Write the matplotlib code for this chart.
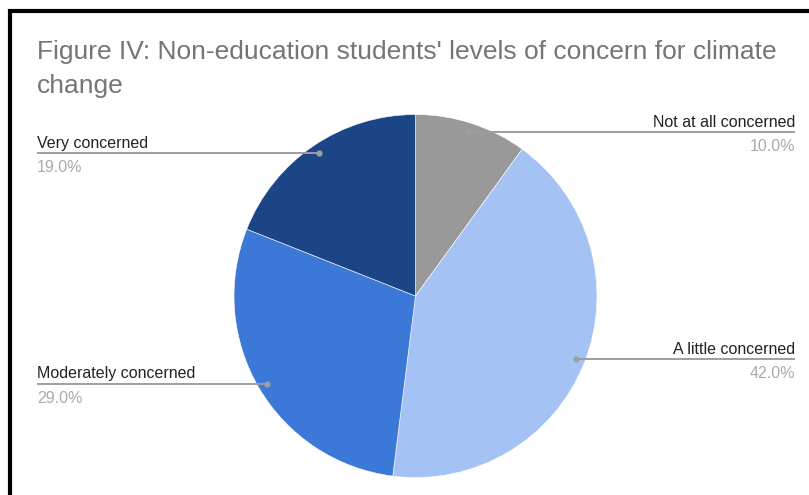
import numpy as np
import matplotlib
matplotlib.use("Agg")
import matplotlib.pyplot as plt

title_lines = ["Figure IV: Non-education students' levels of concern for climate", "change"]
categories = ["Not at all concerned", "A little concerned", "Moderately concerned", "Very concerned"]
shares = [10.0, 42.0, 29.0, 19.0]
colors = ["#999999", "#a4c2f4", "#3c78d8", "#1c4587"]

W, H = 809, 495
fig = plt.figure(figsize=(W / 100, H / 100), dpi=100)
ax = fig.add_axes([0, 0, 1, 1])

# frame around the chart (left and top edges visible)
ax.plot([10.5, 10.5, W + 5], [-5, H - 10.5, H - 10.5], color="black", lw=3,
        solid_capstyle="butt", solid_joinstyle="miter")

cx, cy, r = 415.5, H - 296, 181.5
wedges, _ = ax.pie(shares, colors=colors, startangle=90, counterclock=False,
                   center=(cx, cy), radius=r, frame=True,
                   wedgeprops=dict(edgecolor="white", linewidth=0.4))
ax.set_xlim(0, W)
ax.set_ylim(0, H)
ax.set_aspect("equal")
ax.axis("off")

title_font = ["Liberation Sans", "DejaVu Sans"]
for line, base in zip(title_lines, [59, 93]):
    ax.text(37, H - base, line, fontsize=19, color="#757575",
            family=title_font, va="baseline", ha="left")

label_font = ["Liberation Sans", "DejaVu Sans"]
for w, name, val in zip(wedges, categories, shares):
    ang = np.deg2rad((w.theta1 + w.theta2) / 2)
    dx, dy = 0.95 * r * np.cos(ang), 0.95 * r * np.sin(ang)
    px, py = cx + dx, cy + dy
    if dx >= 0:
        x_end, ha = 795, "right"
    else:
        x_end, ha = 37, "left"
    ax.plot([px, x_end], [py, py], color="#9e9e9e", lw=1.4, solid_capstyle="butt")
    ax.plot([px], [py], "o", color="#9e9e9e", ms=4.5, mec="none")
    ax.text(x_end, py + 5.5, name, fontsize=11.5, color="#222222", family=label_font,
            ha=ha, va="baseline")
    ax.text(x_end, py - 19, f"{val:.1f}%", fontsize=11.5, color="#aaaaaa",
            family=label_font, ha=ha, va="baseline")

fig.savefig("out.png", dpi=100, facecolor="white")
